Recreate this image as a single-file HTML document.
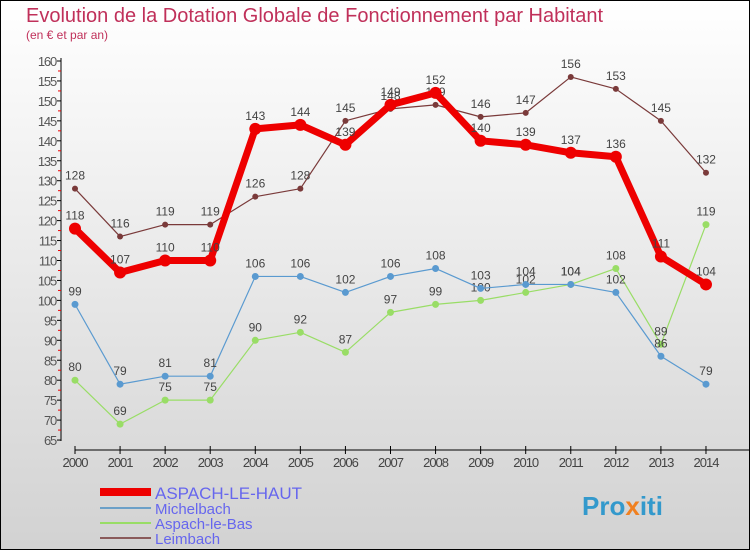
<!DOCTYPE html>
<html><head><meta charset="utf-8"><style>
body{margin:0}
#c{width:750px;height:550px;position:relative;box-sizing:border-box;border:1px solid #000;background:linear-gradient(#fff,#d2d2d2);font-family:"Liberation Sans",sans-serif;overflow:hidden}
</style></head><body>
<div id="c">
<svg width="750" height="550" style="position:absolute;left:-1px;top:-1px">
<text x="26" y="22" font-size="20" fill="#c0305a">Evolution de la Dotation Globale de Fonctionnement par Habitant</text>
<text x="26" y="39" font-size="12" fill="#c0305a">(en € et par an)</text>
<g id="axes"></g><g id="series"></g>
<g>
<line x1="100" y1="492" x2="151" y2="492" stroke="#e00" stroke-width="8"/>
<text x="155" y="499" font-size="17" fill="#6666ee">ASPACH-LE-HAUT</text>
<line x1="100" y1="508" x2="151" y2="508" stroke="#6ca0c8" stroke-width="2"/>
<text x="155" y="514" font-size="15" fill="#6666ee">Michelbach</text>
<line x1="100" y1="523" x2="151" y2="523" stroke="#99dd66" stroke-width="2"/>
<text x="155" y="529" font-size="15" fill="#6666ee">Aspach-le-Bas</text>
<line x1="100" y1="538" x2="151" y2="538" stroke="#8a5a5a" stroke-width="2"/>
<text x="155" y="544" font-size="15" fill="#6666ee">Leimbach</text>
</g>
<text x="582" y="515" font-size="26" font-weight="bold" fill="#3399cc">Pro<tspan fill="#f08020">x</tspan>iti</text>
</svg>
</div>
<script>
const years=[2000,2001,2002,2003,2004,2005,2006,2007,2008,2009,2010,2011,2012,2013,2014];
const aspachHaut=[118,107,110,110,143,144,139,149,152,140,139,137,136,111,104];
const michelbach=[99,79,81,81,106,106,102,106,108,103,104,104,102,86,79];
const aspachBas=[80,69,75,75,90,92,87,97,99,100,102,104,108,89,119];
const leimbach=[128,116,119,119,126,128,145,148,149,146,147,156,153,145,132];
const yTicks=[65,70,75,80,85,90,95,100,105,110,115,120,125,130,135,140,145,150,155,160];
const NS="http://www.w3.org/2000/svg";
const X=i=>75+i*45.07, Y=v=>61+(160-v)*3.99;
function mk(t,a,p){const e=document.createElementNS(NS,t);for(const k in a)e.setAttribute(k,a[k]);p.appendChild(e);return e;}
const ax=document.getElementById('axes');
let l=mk('line',{x1:61,y1:58,x2:61,y2:441,stroke:'#000'},ax);


l=mk('line',{x1:75,y1:450,x2:750,y2:450,stroke:'#000'},ax);


yTicks.forEach((v,k)=>{mk('line',{x1:57,y1:Y(v),x2:61,y2:Y(v),stroke:'#000'},ax);
if(k>0)mk('line',{x1:58,y1:Y(v-2.5),x2:61,y2:Y(v-2.5),stroke:'#e00'},ax);
const t=mk('text',{x:56,y:Y(v)+5,'font-size':13,fill:'#555','text-anchor':'end','letter-spacing':'-1.2'},ax);t.textContent=v;

});
years.forEach((y,i)=>{mk('line',{x1:X(i),y1:446,x2:X(i),y2:454,stroke:'#000'},ax);
const t=mk('text',{x:X(i),y:467,'font-size':13,fill:'#444','text-anchor':'middle','letter-spacing':'-1'},ax);t.textContent=y;

});
const sg=document.getElementById('series');
function draw(data,col,w,r,name){const g=mk('g',{},sg);


mk('polyline',{points:data.map((v,i)=>X(i)+','+Y(v)).join(' '),fill:'none',stroke:col,'stroke-width':w,'stroke-linejoin':'round'},g);
data.forEach((v,i)=>{const c=mk('circle',{cx:X(i),cy:Y(v),r:r,fill:col},g);


const t=mk('text',{x:X(i),y:Y(v)-9,'font-size':12,fill:'#444','text-anchor':'middle'},g);t.textContent=v;});}
draw(leimbach,'#7a3a3a',1.2,3,'series-leimbach');
draw(aspachBas,'#99dd66',1.2,3.5,'series-aspach-le-bas');
draw(michelbach,'#5a9ad0',1.2,3.5,'series-michelbach');
draw(aspachHaut,'#ee0000',7,6,'series-aspach-le-haut');
</script>
</body></html>
